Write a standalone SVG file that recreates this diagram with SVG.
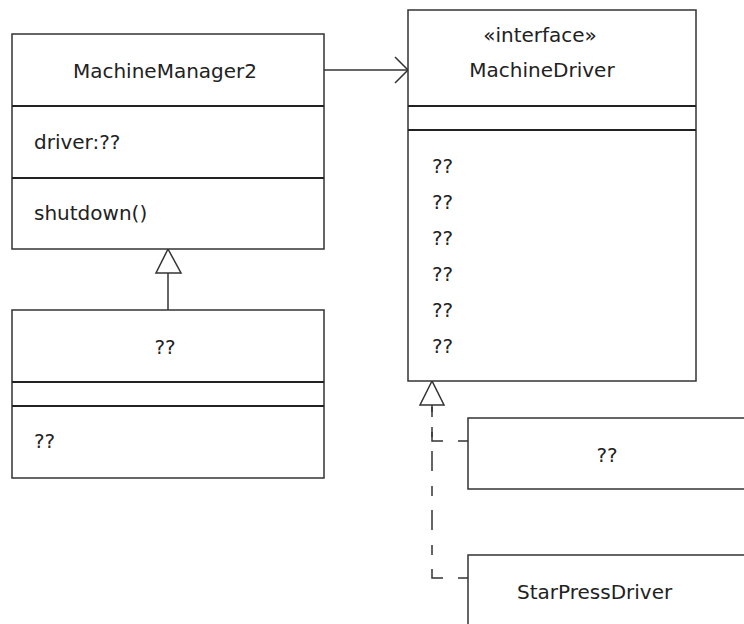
<svg xmlns="http://www.w3.org/2000/svg" width="744" height="624" viewBox="0 0 744 624">
<style>
.box{fill:#fff;stroke:#333;stroke-width:1.5}
.div{stroke:#222;stroke-width:2}
.t{font-family:"DejaVu Sans",sans-serif;font-size:20px;fill:#222}
.c{text-anchor:middle}
.ln{fill:none;stroke:#333;stroke-width:1.5}
.dash{fill:none;stroke:#333;stroke-width:1.5}
.tri{fill:#fff;stroke:#333;stroke-width:1.5}
</style>
<rect width="744" height="624" fill="#fff"/>
<g id="connectors">
<path class="ln" d="M324 70 H408"/>
<path class="ln" d="M395 57 L408 70 L395 83"/>
<path class="ln" d="M168 273 V310"/>
<polygon class="tri" points="168,249 156,273 181,273"/>
<path class="dash" d="M468 441 H432 V405" stroke-dasharray="10 15 20 15"/>
<path class="dash" d="M468 578 H432 V405" stroke-dasharray="10 15 20 14"/>
<polygon class="tri" points="432,381 420,405 444,405"/>
</g>
<g id="MachineManager2">
<rect class="box" x="12" y="34" width="312" height="215"/>
<line class="div" x1="12" y1="106" x2="324" y2="106"/>
<line class="div" x1="12" y1="178" x2="324" y2="178"/>
<text class="t c" x="165" y="78">MachineManager2</text>
<text class="t" x="34" y="149">driver:??</text>
<text class="t" x="34" y="220">shutdown()</text>
</g>
<g id="MachineDriver">
<rect class="box" x="408" y="10" width="288" height="371"/>
<line class="div" x1="408" y1="106" x2="696" y2="106"/>
<line class="div" x1="408" y1="130" x2="696" y2="130"/>
<text class="t c" x="540" y="42">«interface»</text>
<text class="t c" x="542" y="77">MachineDriver</text>
<text class="t" x="432" y="173">??</text>
<text class="t" x="432" y="209">??</text>
<text class="t" x="432" y="245">??</text>
<text class="t" x="432" y="281">??</text>
<text class="t" x="432" y="317">??</text>
<text class="t" x="432" y="353">??</text>
</g>
<g id="SubManager">
<rect class="box" x="12" y="310" width="312" height="168"/>
<line class="div" x1="12" y1="382" x2="324" y2="382"/>
<line class="div" x1="12" y1="406" x2="324" y2="406"/>
<text class="t c" x="165" y="354">??</text>
<text class="t" x="34" y="448">??</text>
</g>
<g id="Driver1">
<rect class="box" x="468" y="418" width="280" height="71"/>
<text class="t c" x="607" y="462">??</text>
</g>
<g id="StarPressDriver">
<rect class="box" x="468" y="555" width="280" height="80"/>
<text class="t" x="517" y="599">StarPressDriver</text>
</g>
</svg>
